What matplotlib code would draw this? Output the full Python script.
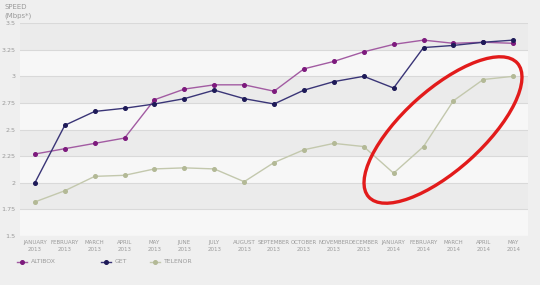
import matplotlib.pyplot as plt
from matplotlib.patches import Ellipse
from matplotlib.lines import Line2D

months = ['JANUARY\n2013', 'FEBRUARY\n2013', 'MARCH\n2013', 'APRIL\n2013', 'MAY\n2013',
          'JUNE\n2013', 'JULY\n2013', 'AUGUST\n2013', 'SEPTEMBER\n2013', 'OCTOBER\n2013',
          'NOVEMBER\n2013', 'DECEMBER\n2013', 'JANUARY\n2014', 'FEBRUARY\n2014',
          'MARCH\n2014', 'APRIL\n2014', 'MAY\n2014']
altibox = [2.27, 2.32, 2.37, 2.42, 2.78, 2.88, 2.92, 2.92, 2.86, 3.07, 3.14, 3.23,
           3.30, 3.34, 3.31, 3.32, 3.31]
get = [2.00, 2.54, 2.67, 2.70, 2.74, 2.79, 2.87, 2.79, 2.74, 2.87, 2.95, 3.00,
       2.89, 3.27, 3.29, 3.32, 3.34]
telenor = [1.82, 1.925, 2.06, 2.07, 2.13, 2.14, 2.13, 2.01, 2.19, 2.31, 2.37, 2.34,
           2.09, 2.34, 2.77, 2.97, 3.00]
yticks = [1.5, 1.75, 2, 2.25, 2.5, 2.75, 3, 3.25, 3.5]
ylabels = ['1.5', '1.75', '2', '2.25', '2.5', '2.75', '3', '3.25', '3.5']

series = [
    ('ALTIBOX', altibox, '#a25ba2', '#7d1a7d'),
    ('GET', get, '#3a3577', '#1e1a58'),
    ('TELENOR', telenor, '#c3c8ad', '#b3b996'),
]

bg = '#efefef'
fig = plt.figure(figsize=(5.4, 2.85), dpi=100, facecolor=bg)
ax = fig.add_axes([0.037, 0.172, 0.941, 0.747])
ax.set_facecolor('#ebebeb')

# alternating bands
for i in range(len(yticks) - 1):
    if i % 2 == 0:
        ax.axhspan(yticks[i], yticks[i + 1], color='#f7f7f7', zorder=0, lw=0)
for y in yticks:
    ax.axhline(y, color='#d9d9d9', lw=0.8, zorder=1)

x = list(range(len(months)))
for name, vals, lc, mc in series:
    ax.plot(x, vals, color=lc, lw=1.0, marker='o', markersize=2.6,
            markerfacecolor=mc, markeredgecolor=mc, zorder=3)

ax.set_xlim(-0.5, len(months) - 0.5)
ax.set_ylim(1.5, 3.5)
ax.set_yticks(yticks)
ax.set_yticklabels(ylabels)
ax.set_xticks(x)
ax.set_xticklabels(months)
ax.tick_params(axis='both', length=0, labelsize=4.6, colors='#9a9a9a')
ax.tick_params(axis='x', pad=3, labelsize=4.0)
ax.tick_params(axis='y', pad=3)
for lab in ax.get_xticklabels():
    lab.set_linespacing(1.35)
for s in ax.spines.values():
    s.set_visible(False)

fig.text(0.008, 0.985, 'SPEED\n(Mbps*)', fontsize=5, color='#9a9a9a', va='top',
         ha='left', linespacing=1.4)

# legend
legend_x = [0.041, 0.196, 0.287]
for (name, vals, lc, mc), lx in zip(series, legend_x):
    fig.add_artist(Line2D([lx - 0.009, lx + 0.009], [0.081, 0.081], color=lc, lw=1.0,
                          transform=fig.transFigure))
    fig.add_artist(Line2D([lx], [0.081], marker='o', markersize=2.6, color=mc,
                          transform=fig.transFigure))
    fig.text(lx + 0.016, 0.081, name, fontsize=4.4, color='#9a9a9a', va='center')

# red ellipse highlight
fig.add_artist(Ellipse((4.43, 1.55), 2.0, 0.8, angle=42, fill=False,
                       edgecolor='#e21b1b', lw=2.4, transform=fig.dpi_scale_trans))

fig.savefig('out.png', dpi=100, facecolor=bg)
